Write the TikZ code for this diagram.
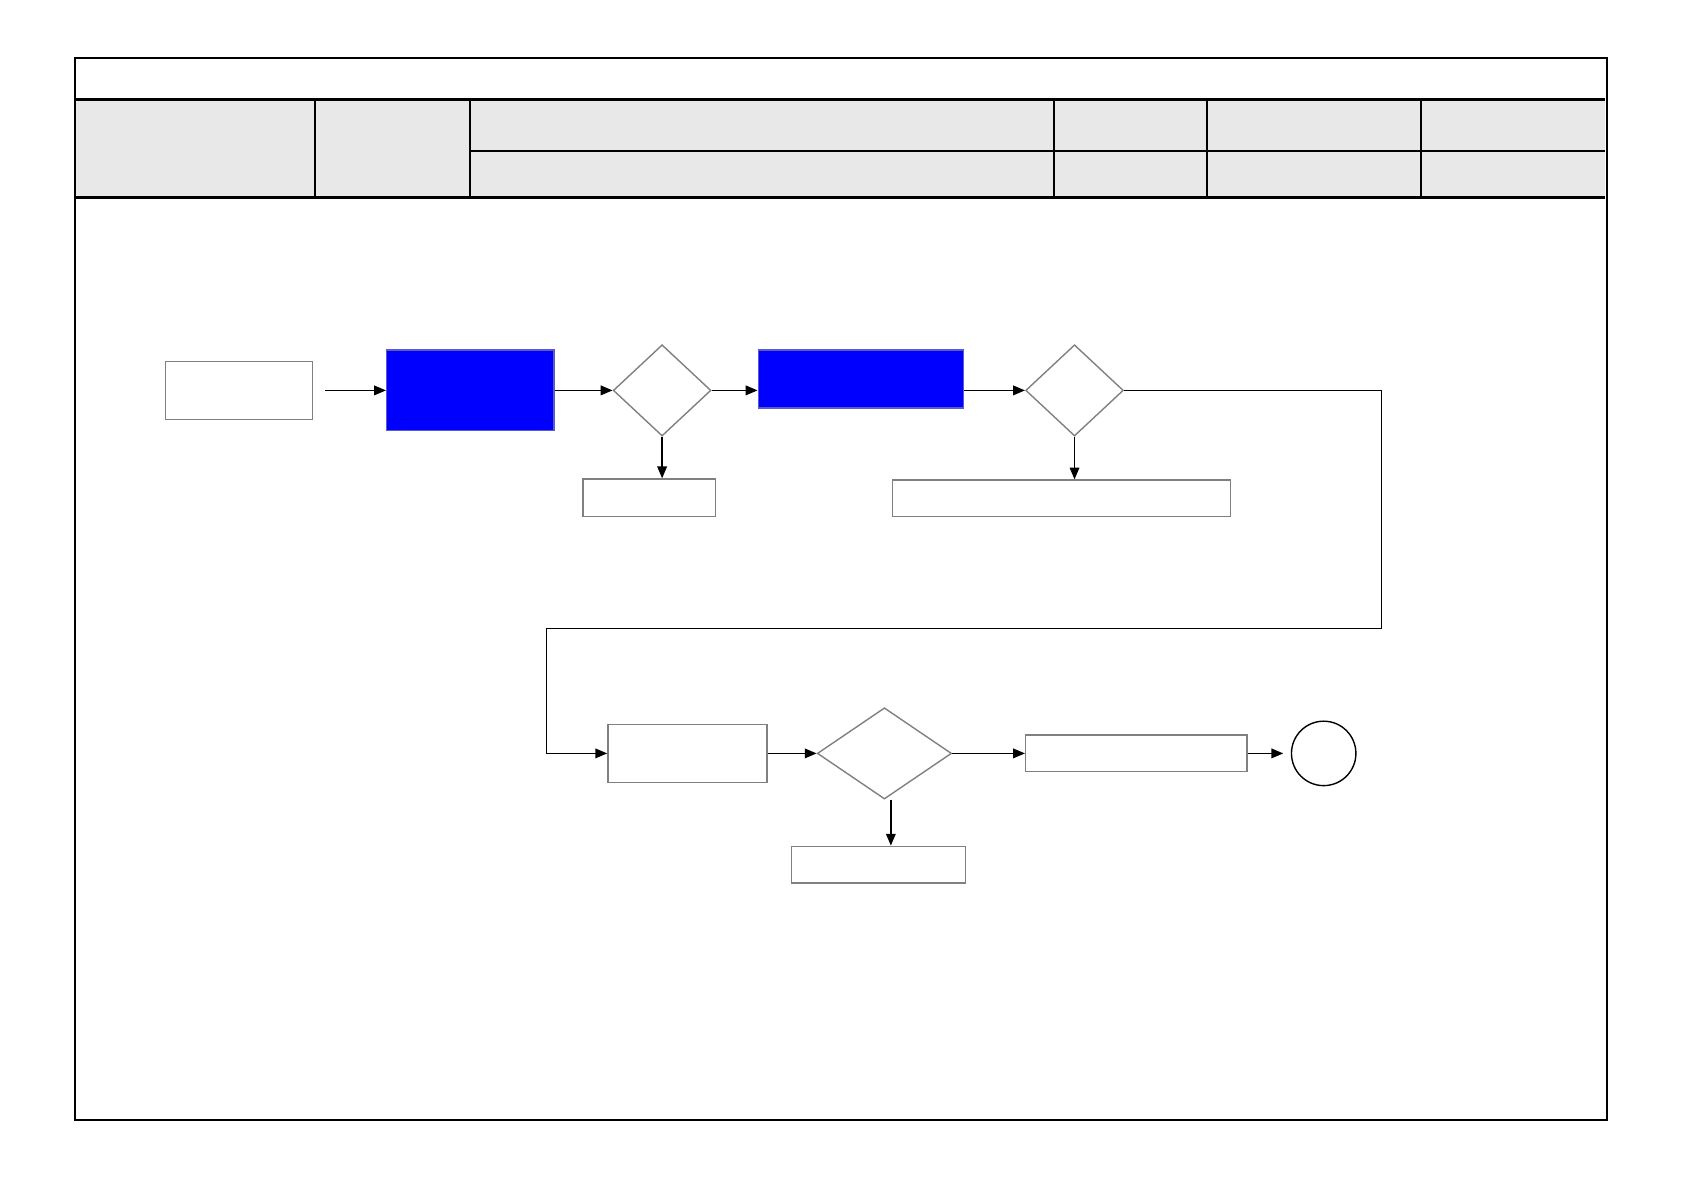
\documentclass[tikz,border=0pt]{standalone}
\usetikzlibrary{arrows.meta,shapes.geometric,calc}
\definecolor{hdrgray}{RGB}{232,232,232}
\definecolor{pureblue}{RGB}{0,0,255}
\definecolor{bluebord}{RGB}{90,90,200}
\definecolor{boxgray}{RGB}{128,128,128}
\begin{document}
\begin{tikzpicture}[x=1pt,y=-1pt,
  gbox/.style={draw=boxgray,line width=1.3pt,fill=white,inner sep=0pt},
  bbox/.style={draw=bluebord,line width=1.3pt,fill=pureblue,inner sep=0pt},
  dec/.style={diamond,draw=boxgray,line width=1.3pt,fill=white,inner sep=0pt,aspect=1},
  conn/.style={line width=1.2pt,-{Triangle[length=11pt,width=9pt]}},
  plain/.style={line width=1.2pt},
  frame/.style={line width=1.6pt},
  hdr line/.style={line width=2.8pt},
  col line/.style={line width=1.8pt}]
\useasboundingbox (0,0) rectangle (1568,1108);
% header
\fill[hdrgray] (70,93) rectangle (1494,184);
\draw[col line] (293,93) -- (293,184);
\draw[col line] (438,93) -- (438,184);
\draw[col line] (981,93) -- (981,184);
\draw[col line] (1124,93) -- (1124,184);
\draw[col line] (1323,93) -- (1323,184);
\draw[col line] (438,141) -- (1494,141);
\draw[hdr line] (70,93) -- (1494,93);
\draw[hdr line] (70,184) -- (1494,184);
\draw[frame] (70,54) rectangle (1496,1043);
% nodes
\node[gbox,minimum width=137pt,minimum height=54pt] (A) at (222.5,363.5) {};
\node[bbox,minimum width=156pt,minimum height=75pt] (B) at (438,363.5) {};
\node[dec,minimum width=91pt,minimum height=85pt] (D1) at (616.5,363.5) {};
\node[gbox,minimum width=123pt,minimum height=35pt] (E1) at (604.5,463.5) {};
\node[bbox,minimum width=191pt,minimum height=54pt] (C) at (801.5,353) {};
\node[dec,minimum width=91pt,minimum height=85pt] (D2) at (1000.5,363.5) {};
\node[gbox,minimum width=315pt,minimum height=34pt] (E2) at (988.5,464) {};
\node[gbox,minimum width=148pt,minimum height=54pt] (F) at (640,701.5) {};
\node[dec,minimum width=125pt,minimum height=85pt] (D3) at (823.5,701.5) {};
\node[gbox,minimum width=206pt,minimum height=34pt] (G) at (1058,701.5) {};
\node[circle,draw=black,line width=1.3pt,minimum size=60pt,inner sep=0pt] (O) at (1232.5,701.5) {};
\node[gbox,minimum width=162pt,minimum height=34pt] (H) at (818,805) {};
\coordinate (t1) at (1286,363.5);
\coordinate (t2) at (509,585);
% connectors
\draw[conn,shorten <=11pt] (A.east) -- (B.west);
\draw[conn] (B.east |- D1) -- (D1.west);
\draw[conn] (D1.east) -- (D1.east -| C.west);
\draw[conn] (D1.south) -- (D1.south |- E1.north);
\draw[conn] (C.east |- D2) -- (D2.west);
\draw[conn] (D2.south) -- (D2.south |- E2.north);
\draw[plain] (D2.east) -- (t1) |- (t2);
\draw[conn] (t2) |- (F.west);
\draw[conn] (F.east |- D3) -- (D3.west);
\draw[conn] (D3.east) -- (D3.east -| G.west);
\draw[conn,shorten >=7pt] (G.east) -- (O.west);
\draw[conn] ([xshift=6pt]D3.south) -- ([xshift=6pt]D3.south |- H.north);
\end{tikzpicture}
\end{document}
